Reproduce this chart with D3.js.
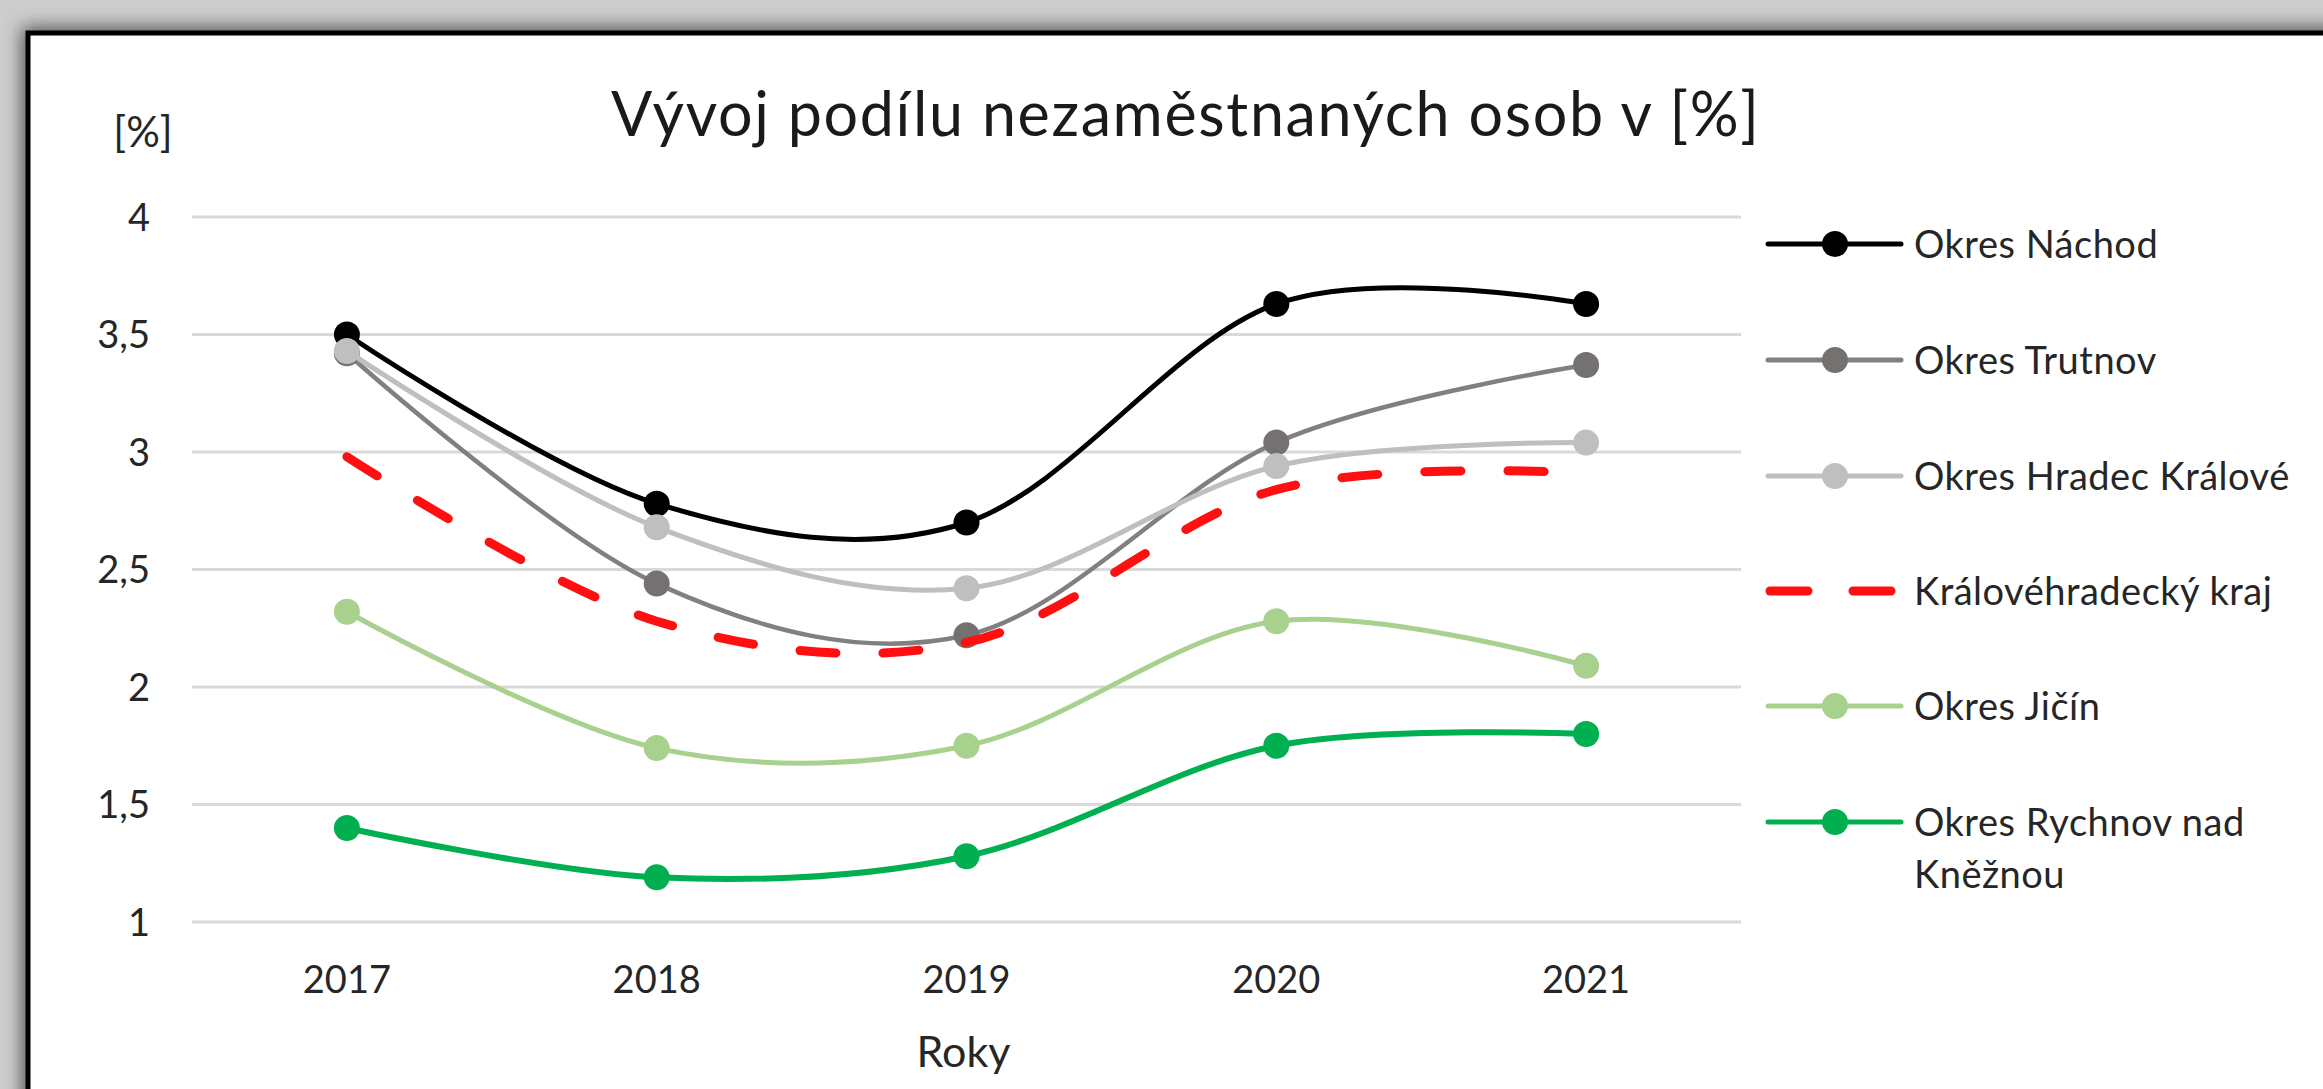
<!DOCTYPE html>
<html>
<head>
<meta charset="utf-8">
<script src="https://cdn.jsdelivr.net/npm/d3@7"></script>
<style>
  html, body { margin: 0; padding: 0; background: #c8c8c8; overflow: hidden; }
  text { font-family: Lato, "Open Sans", sans-serif; }
</style>
</head>
<body>
<div id="chart"></div>
<script>
// data
const years = ["2017", "2018", "2019", "2020", "2021"];
const seriesNames = ["Okres Náchod", "Okres Trutnov", "Okres Hradec Králové", "Královéhradecký kraj", "Okres Jičín", "Okres Rychnov nad Kněžnou"];
const nachod  = [3.50, 2.78, 2.70, 3.63, 3.63];
const trutnov = [3.42, 2.44, 2.22, 3.04, 3.37];
const hradec  = [3.43, 2.68, 2.42, 2.94, 3.04];
const kraj    = [2.98, 2.28, 2.19, 2.84, 2.91];
const jicin   = [2.32, 1.74, 1.75, 2.28, 2.09];
const rychnov = [1.40, 1.19, 1.28, 1.75, 1.80];
const yTicks = [1, 1.5, 2, 2.5, 3, 3.5, 4];

const series = [
    { name: seriesNames[0], values: nachod,  line: "#000000", marker: "#000000", width: 5 },
    { name: seriesNames[1], values: trutnov, line: "#808080", marker: "#767171", width: 4.5 },
    { name: seriesNames[2], values: hradec,  line: "#bfbfbf", marker: "#bfbfbf", width: 5 },
    { name: seriesNames[3], values: kraj,    line: "#ff0f0f", marker: null, width: 9, dash: "36 47" },
    { name: seriesNames[4], values: jicin,   line: "#a9d18e", marker: "#a9d18e", width: 5 },
    { name: seriesNames[5], values: rychnov, line: "#00b050", marker: "#00b050", width: 6 }
];

const width = 2323;
const height = 1089;
const plot = { left: 192, right: 1741, top: 217, bottom: 922 };

const svg = d3.select("#chart")
              .append("svg")
              .attr("width", width)
              .attr("height", height);

// shadow around the chart frame
const defs = svg.append("defs");
const blur = defs.append("filter")
                 .attr("id", "shadow")
                 .attr("x", "-10%").attr("y", "-10%")
                 .attr("width", "120%").attr("height", "120%");
blur.append("feGaussianBlur").attr("stdDeviation", 9);

svg.append("rect")
   .attr("width", width).attr("height", height)
   .attr("fill", "#cdcdcd");

svg.append("rect")
   .attr("x", 22).attr("y", 27)
   .attr("width", width + 100).attr("height", height + 100)
   .attr("fill", "#555555")
   .attr("filter", "url(#shadow)");

svg.append("rect")
   .attr("x", 28).attr("y", 33)
   .attr("width", width + 100).attr("height", height + 100)
   .attr("fill", "#ffffff")
   .attr("stroke", "#000")
   .attr("stroke-width", 5);

// scales
const x = d3.scalePoint()
            .domain(years)
            .range([plot.left, plot.right])
            .padding(0.5);

const y = d3.scaleLinear()
            .domain([1, 4])
            .range([plot.bottom, plot.top]);

// gridlines
svg.append("g")
   .selectAll("line")
   .data(yTicks)
   .enter()
   .append("line")
   .attr("x1", plot.left)
   .attr("x2", plot.right)
   .attr("y1", d => y(d))
   .attr("y2", d => y(d))
   .attr("stroke", "#d9d9d9")
   .attr("stroke-width", 3);

// y axis labels
svg.append("g")
   .selectAll("text")
   .data(yTicks)
   .enter()
   .append("text")
   .attr("x", 150)
   .attr("y", d => y(d))
   .attr("dy", "0.36em")
   .attr("text-anchor", "end")
   .style("font-size", "38px")
   .style("fill", "#262626")
   .text(d => String(d).replace(".", ","));

// x axis labels
svg.append("g")
   .selectAll("text")
   .data(years)
   .enter()
   .append("text")
   .attr("x", d => x(d))
   .attr("y", 993)
   .attr("text-anchor", "middle")
   .style("font-size", "38px")
   .style("fill", "#262626")
   .text(d => d);

// titles
svg.append("text")
   .attr("x", 1185)
   .attr("y", 136)
   .attr("text-anchor", "middle")
   .attr("textLength", 1148)
   .attr("lengthAdjust", "spacing")
   .style("font-size", "61px")
   .style("fill", "#1a1a1a")
   .text("Vývoj podílu nezaměstnaných osob v [%]");

svg.append("text")
   .attr("x", 143)
   .attr("y", 147)
   .attr("text-anchor", "middle")
   .style("font-size", "42px")
   .style("fill", "#262626")
   .text("[%]");

svg.append("text")
   .attr("x", (plot.left + plot.right) / 2 - 3)
   .attr("y", 1067)
   .attr("text-anchor", "middle")
   .style("font-size", "43px")
   .style("fill", "#262626")
   .text("Roky");

// lines + markers, drawn in series order
const line = d3.line()
               .x((d, i) => x(years[i]))
               .y(d => y(d))
               .curve(d3.curveCardinal.tension(0));

series.forEach(s => {
    const g = svg.append("g");
    g.append("path")
     .attr("d", line(s.values))
     .attr("fill", "none")
     .attr("stroke", s.line)
     .attr("stroke-width", s.width)
     .attr("stroke-linecap", "round")
     .attr("stroke-dasharray", s.dash || null);

    if (s.marker) {
        g.selectAll("circle")
         .data(s.values)
         .enter()
         .append("circle")
         .attr("cx", (d, i) => x(years[i]))
         .attr("cy", d => y(d))
         .attr("r", 13)
         .attr("fill", s.marker);
    }
});

// legend
const legend = svg.append("g");
const legendY = [244, 360, 476, 591, 706, 822];

const items = legend.selectAll(".legendItem")
                    .data(series)
                    .enter()
                    .append("g")
                    .attr("class", "legendItem")
                    .attr("transform", (d, i) => `translate(0, ${legendY[i]})`);

items.append("line")
     .attr("x1", d => d.dash ? 1770 : 1768)
     .attr("x2", d => d.dash ? 1896 : 1901)
     .attr("stroke", d => d.line)
     .attr("stroke-width", d => d.dash ? 9 : 5)
     .attr("stroke-linecap", "round")
     .attr("stroke-dasharray", d => d.dash ? "38 45" : null);

items.filter(d => d.marker)
     .append("circle")
     .attr("cx", 1835)
     .attr("r", 13)
     .attr("fill", d => d.marker);

items.append("text")
     .attr("x", 1914)
     .style("font-size", "38px")
     .style("letter-spacing", "0.5px")
     .style("fill", "#262626")
     .each(function(d) {
         const t = d3.select(this);
         const words = d.name === "Okres Rychnov nad Kněžnou" ? ["Okres Rychnov nad", "Kněžnou"] : [d.name];
         words.forEach((w, i) => {
             t.append("tspan")
              .attr("x", 1914)
              .attr("dy", i === 0 ? "0.36em" : "52px")
              .text(w);
         });
     });
</script>
</body>
</html>
